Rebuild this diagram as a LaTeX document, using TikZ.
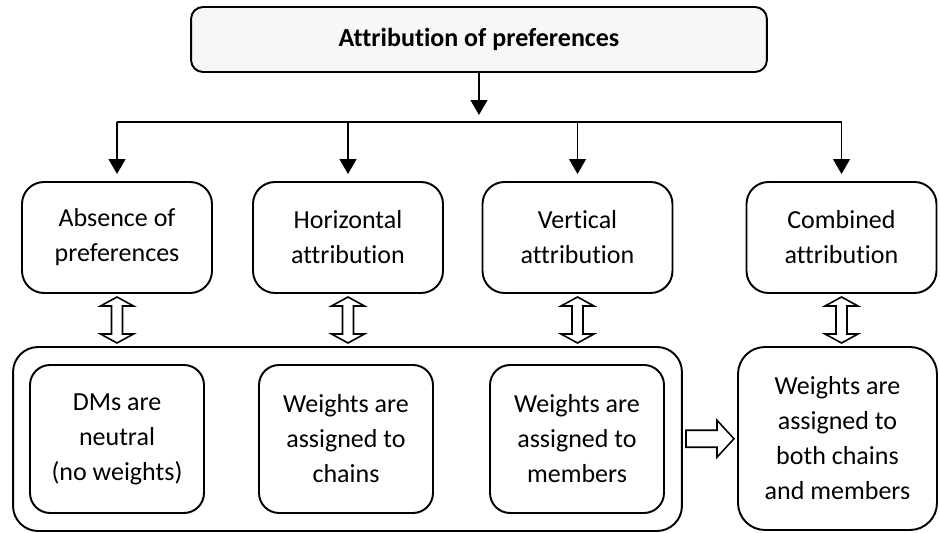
\documentclass[tikz,border=0pt]{standalone}
\usepackage{fontspec}
\setmainfont{Carlito}[Ligatures=NoCommon]
\usetikzlibrary{calc,arrows.meta}

\begin{document}
\begin{tikzpicture}[x=0.02cm,y=-0.02cm,>={Triangle[width=9.5pt,length=8.5pt]},line width=1.1pt,
  box/.style={draw, rounded corners=0.44cm, align=center, inner sep=0pt,
    font=\fontsize{14.8}{19.9}\selectfont},
  hollow/.style={draw, fill=white, line width=0.9pt, line join=miter}]
  \useasboundingbox (0,0) rectangle (940,533);

  % Layout
  \def\rowy{237.5}
  \def\inny{439}

  % Title
  \node[box, fill=gray!6, rounded corners=0.24cm, minimum width=11.52cm, minimum height=1.3cm,
        font=\fontsize{14.8}{19.9}\selectfont\bfseries] (top) at (479,39.5) {Attribution of preferences};

  % Kinds of attribution
  \node[box, minimum width=3.8cm, minimum height=2.22cm] (absence)    at (117,\rowy)   {Absence of\\preferences};
  \node[box, minimum width=3.8cm, minimum height=2.22cm] (horizontal) at (348,\rowy)   {Horizontal\\attribution};
  \node[box, minimum width=3.8cm, minimum height=2.22cm] (vertical)   at (577.5,\rowy) {Vertical\\attribution};
  \node[box, minimum width=3.8cm, minimum height=2.22cm] (combined)   at (841.5,\rowy) {Combined\\attribution};

  % Group of single weightings
  \node[box, rounded corners=0.5cm, minimum width=13.38cm, minimum height=3.68cm] (group) at (347.5,\inny) {};
  \node[box, rounded corners=0.4cm, minimum width=3.48cm, minimum height=2.96cm] (neutral) at (117,\inny)   {DMs are\\neutral\\(no weights)};
  \node[box, rounded corners=0.4cm, minimum width=3.48cm, minimum height=2.96cm] (chains)  at (346,\inny)   {Weights are\\assigned to\\chains};
  \node[box, rounded corners=0.4cm, minimum width=3.48cm, minimum height=2.96cm] (members) at (577,\inny)   {Weights are\\assigned to\\members};

  % Both weightings
  \node[box, rounded corners=0.54cm, minimum width=3.98cm, minimum height=3.66cm] (both) at (837.5,438.5)
    {Weights are\\assigned to\\both chains\\and members};

  % Arrows from the title
  \coordinate (bus) at (479,122);
  \draw[->] (top.south) -- ($(top.south |- bus)+(0,-7)$);
  \draw (absence.north |- bus) -- (combined.north |- bus);
  \foreach \nm in {absence,horizontal,vertical,combined}
    \draw[->] (\nm.north |- bus) -- ($(\nm.north)+(0,-7)$);

  % Hollow up-down arrows
  \foreach \hi/\lo in {absence/group, horizontal/group, vertical/group, combined/both} {
    \coordinate (m) at ($(\hi.south)!0.5!(\hi.south |- \lo.north)$);
    \draw[hollow] (m) ++(0,-23) -- ++(16.5,9) -- ++(-11,0) -- ++(0,28) -- ++(11,0) -- ++(-16.5,9)
      -- ++(-16.5,-9) -- ++(11,0) -- ++(0,-28) -- ++(-11,0) -- cycle;
  }

  % Hollow arrow to the combined weighting
  \coordinate (r) at ($(group.east)!0.5!(both.west)$);
  \draw[hollow] (r) ++(-24,-8.5) -- ++(31,0) -- ++(0,-10) -- ++(17,18.5) -- ++(-17,18.5)
    -- ++(0,-10) -- ++(-31,0) -- cycle;
\end{tikzpicture}
\end{document}
